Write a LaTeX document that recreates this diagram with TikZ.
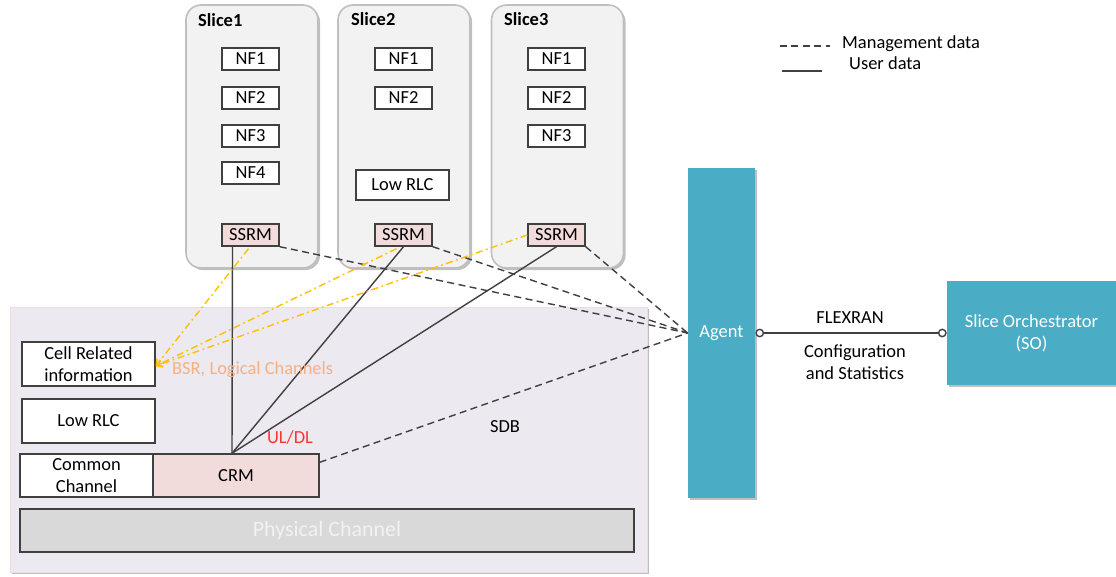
\documentclass[tikz,border=0pt]{standalone}
\usepackage{fontspec}
\setmainfont{Carlito}
\usetikzlibrary{arrows.meta,calc,shadows}

\definecolor{slicefill}{HTML}{F2F2F2}
\definecolor{sliceline}{HTML}{BFBFBF}
\definecolor{ranfill}{HTML}{ECE9F0}
\definecolor{pinkfill}{HTML}{F2DCDB}
\definecolor{darkline}{HTML}{404040}
\definecolor{teal}{HTML}{4BACC6}
\definecolor{phyfill}{HTML}{D9D9D9}
\definecolor{bsrtext}{HTML}{F4B183}
\definecolor{yellowline}{HTML}{FFC000}
\definecolor{redtext}{HTML}{FF3333}

\begin{document}
\begin{tikzpicture}[x=0.02cm,y=-0.02cm,
    font=\fontsize{10.5}{12.5}\selectfont,
    slicebox/.style={draw=sliceline,line width=0.9pt,fill=slicefill,rounded corners=0.3cm,
      minimum width=2.64cm,minimum height=5.26cm,inner sep=0pt,
      drop shadow={shadow xshift=1.2pt,shadow yshift=-1.2pt,fill=black,opacity=0.25}},
    nfbox/.style={draw=darkline,fill=white,line width=0.8pt,inner sep=0pt,
      minimum width=1.14cm,minimum height=0.44cm},
    ssrmbox/.style={nfbox,fill=pinkfill},
    ranbox/.style={draw=darkline,fill=white,line width=0.8pt,inner sep=0pt,align=center,
      minimum width=2.66cm,minimum height=0.88cm},
    tealbox/.style={fill=teal,text=white,inner sep=0pt,align=center,
      drop shadow={shadow xshift=1pt,shadow yshift=-1pt,fill=black,opacity=0.25}},
    mgmt/.style={darkline,line width=0.8pt,dash pattern=on 4pt off 2.5pt},
    userline/.style={darkline,line width=0.8pt},
    bsrline/.style={yellowline,line width=0.8pt,dash pattern=on 4pt off 2pt on 1pt off 2pt,
      -{Straight Barb[length=3pt,width=4pt]}}]
      \useasboundingbox (0,0) rectangle (1116,577);
      \node[fill=ranfill,draw=pinkfill,line width=0.4pt,minimum width=12.74cm,minimum height=5.3cm,
        drop shadow={shadow xshift=1.2pt,shadow yshift=-1.2pt,fill=black,opacity=0.25}]
        (ran) at (328.5,439.5) {};
      \node[slicebox] (slice1) at (252,136.5) {};
      \node[slicebox] (slice2) at (404,136.5) {};
      \node[slicebox] (slice3) at (557.5,136.5) {};
      \node[anchor=west,font=\fontsize{10.5}{12.5}\selectfont\bfseries] (s1title) at (192,20) {Slice1};
      \node[anchor=west,font=\fontsize{10.5}{12.5}\selectfont\bfseries] (s2title) at (345,19) {Slice2};
      \node[anchor=west,font=\fontsize{10.5}{12.5}\selectfont\bfseries] (s3title) at (498,19) {Slice3};
      \node[nfbox] (s1nf1) at (250.5,59) {NF1};
      \node[nfbox] (s1nf2) at (250.5,98) {NF2};
      \node[nfbox] (s1nf3) at (250.5,136) {NF3};
      \node[nfbox] (s1nf4) at (250.5,173) {NF4};
      \node[ssrmbox] (ssrm1) at (250.5,235) {SSRM};
      \node[nfbox] (s2nf1) at (403.5,59) {NF1};
      \node[nfbox] (s2nf2) at (403.5,98) {NF2};
      \node[nfbox,minimum width=1.86cm,minimum height=0.6cm] (s2rlc) at (402.5,185) {Low RLC};
      \node[ssrmbox] (ssrm2) at (403.5,235) {SSRM};
      \node[nfbox] (s3nf1) at (556.5,59) {NF1};
      \node[nfbox] (s3nf2) at (556.5,98) {NF2};
      \node[nfbox] (s3nf3) at (556.5,136) {NF3};
      \node[ssrmbox] (ssrm3) at (556.5,235) {SSRM};
      \node[ranbox] (cell) at (88.5,364) {Cell Related\\information};
      \node[ranbox] (lowrlc) at (88.5,421) {Low RLC};
      \node[ranbox,minimum height=0.86cm] (common) at (86.5,475.5) {Common\\Channel};
      \node[ranbox,fill=pinkfill,minimum width=3.32cm,minimum height=0.86cm] (crm) at (236,475.5) {CRM};
      \node[draw=darkline,fill=phyfill,line width=0.8pt,minimum width=12.28cm,minimum height=0.86cm,
        inner sep=0pt,text=slicefill,font=\fontsize{12.5}{14}\selectfont] (phy) at (327,530.5) {Physical Channel};
      \node[tealbox,minimum width=1.34cm,minimum height=6.6cm] (agent) at (721.5,333) {Agent};
      \node[tealbox,minimum width=3.38cm,minimum height=2.08cm] (so) at (1031.5,333) {Slice Orchestrator\\(SO)};
      \draw[userline] ($(ssrm1.south)+(-18,0)$) -- ($(crm.north)+(-4,0)$);
      \draw[userline] (ssrm2.south) -- ($(crm.north)+(-4,0)$);
      \draw[userline] (ssrm3.south) -- ($(crm.north)+(-4,0)$);
      \draw[mgmt] (ssrm1.south east) -- (agent.west);
      \draw[mgmt] (ssrm2.south east) -- (agent.west);
      \draw[mgmt] (ssrm3.south east) -- (agent.west);
      \draw[mgmt] ($(crm.north east)+(0,9)$) -- (agent.west);
      \draw[bsrline] ($(ssrm1.south)+(-2,2)$) -- ($(cell.east)+(0,2)$);
      \draw[bsrline] ($(ssrm2.south)+(-7,2)$) -- ($(cell.east)+(0,2)$);
      \draw[bsrline] (ssrm3.west) -- ($(cell.east)+(0,2)$);
      \draw[userline,{Circle[open,length=5pt,fill=white]}-{Circle[open,length=5pt,fill=white]}]
        (agent.east) -- (so.west);
      \node[text=bsrtext,anchor=west] (bsr) at (166,370) {BSR, Logical Channels};
      \node[text=redtext] (uldl) at (290,437) {UL/DL};
      \node (sdb) at (505,427) {SDB};
      \node (flexran) at (850,318) {FLEXRAN};
      \node[align=center] (config) at (855,362) {Configuration\\and Statistics};
      \node[anchor=west] (mgmtlabel) at (836,44) {Management data};
      \node[anchor=west] (userlabel) at (843,63) {User data};
      \coordinate (mgmtstart) at (780,46);
      \coordinate (userstart) at (782,71);
      \draw[mgmt] (mgmtstart) -- ($(mgmtlabel.west)+(-6,2)$);
      \draw[userline] (userstart) -- ($(userlabel.west)+(-21,8)$);
    \end{tikzpicture}
\end{document}
